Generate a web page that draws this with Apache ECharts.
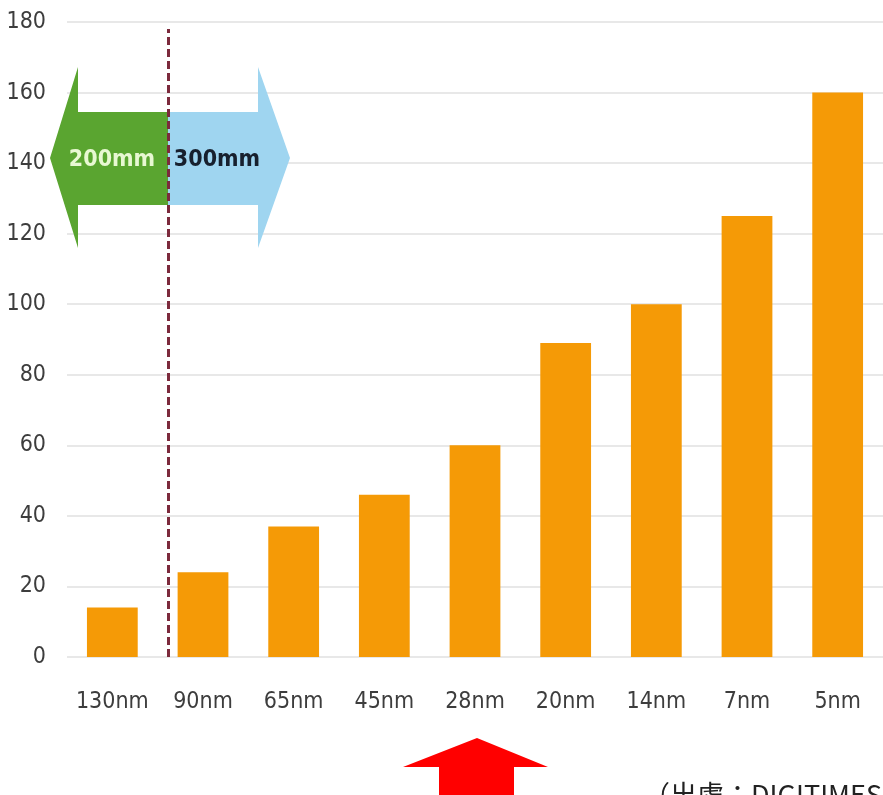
<!DOCTYPE html>
<html>
<head>
<meta charset="utf-8">
<title>製程節點成本</title>
<script src="https://cdn.jsdelivr.net/npm/echarts@6/dist/echarts.min.js"></script>
<style>
  html, body { margin: 0; padding: 0; background: #ffffff; }
  #chart { width: 883px; height: 795px; }
</style>
</head>
<body>
<div id="chart"></div>
<script>
// Process nodes and relative values per node
const nodes = ['130nm', '90nm', '65nm', '45nm', '28nm', '20nm', '14nm', '7nm', '5nm'];
const values = [14, 24, 37, 46, 60, 89, 100, 125, 160];
const yTicks = [0, 20, 40, 60, 80, 100, 120, 140, 160, 180];
// Wafer-size divider, in category units (between 130nm and 90nm)
const waferDivider = 0.62;
const waferLabels = ['200mm', '300mm'];
const sourceNote = '（出處：DIGITIMES）';

const narrow = '"Liberation Sans Narrow", "DejaVu Sans Condensed", "Arial Narrow", sans-serif';

const chart = echarts.init(document.getElementById('chart'));

chart.setOption({
  backgroundColor: '#ffffff',
  animation: false,
  grid: { left: 67, right: -5, top: 22, bottom: 138 },
  xAxis: [
    {
      type: 'category',
      data: nodes,
      axisLine: { show: false },
      axisTick: { show: false },
      axisLabel: { interval: 0, color: '#3d3d3d', fontSize: 23, fontFamily: narrow, margin: 34 }
    },
    {
      type: 'value',
      min: -0.5,
      max: nodes.length - 0.5,
      show: false
    }
  ],
  yAxis: {
    type: 'value',
    min: yTicks[0],
    max: yTicks[yTicks.length - 1],
    interval: yTicks[1] - yTicks[0],
    axisLine: { show: false },
    axisTick: { show: false },
    axisLabel: { color: '#3d3d3d', fontSize: 23, fontFamily: narrow, margin: 21 },
    splitLine: { lineStyle: { color: '#e8e8e8', width: 2 } }
  },
  series: [
    {
      type: 'bar',
      data: values,
      barWidth: '56%',
      itemStyle: { color: '#f59a06' }
    },
    {
      // carries the dashed wafer-size divider
      type: 'line',
      xAxisIndex: 1,
      data: [],
      silent: true,
      markLine: {
        symbol: 'none',
        silent: true,
        label: { show: false },
        lineStyle: { color: '#7c2a3c', width: 3, type: [8, 4] },
        data: [[{ coord: [waferDivider, 0] }, { coord: [waferDivider, 178] }]]
      }
    }
  ],
  graphic: [
    {
      type: 'polygon',
      shape: { points: [[50, 158], [78, 67], [78, 112], [168, 112], [168, 205], [78, 205], [78, 248]] },
      style: { fill: '#5aa530' },
      z: 5
    },
    {
      type: 'polygon',
      shape: { points: [[168, 112], [258, 112], [258, 67], [290, 158], [258, 248], [258, 205], [168, 205]] },
      style: { fill: '#9fd5f0' },
      z: 5
    },
    {
      type: 'text',
      x: 112, y: 160,
      style: {
        text: waferLabels[0], fill: '#e8f8d2', fontSize: 23, fontWeight: 'bold',
        fontFamily: narrow, align: 'center', verticalAlign: 'middle'
      },
      z: 6
    },
    {
      type: 'text',
      x: 217, y: 160,
      style: {
        text: waferLabels[1], fill: '#17202e', fontSize: 23, fontWeight: 'bold',
        fontFamily: narrow, align: 'center', verticalAlign: 'middle'
      },
      z: 6
    },
    {
      type: 'polygon',
      shape: { points: [[477, 738], [548, 767], [514, 767], [514, 800], [439, 800], [439, 767], [403, 767]] },
      style: { fill: '#ff0000' },
      z: 5
    },
    {
      type: 'text',
      x: 643, y: 781,
      style: {
        text: sourceNote, fill: '#222222', fontSize: 27,
        fontFamily: '"Noto Sans CJK TC", "Noto Sans", sans-serif',
        align: 'left', verticalAlign: 'top'
      },
      z: 6
    }
  ]
});
</script>
</body>
</html>
